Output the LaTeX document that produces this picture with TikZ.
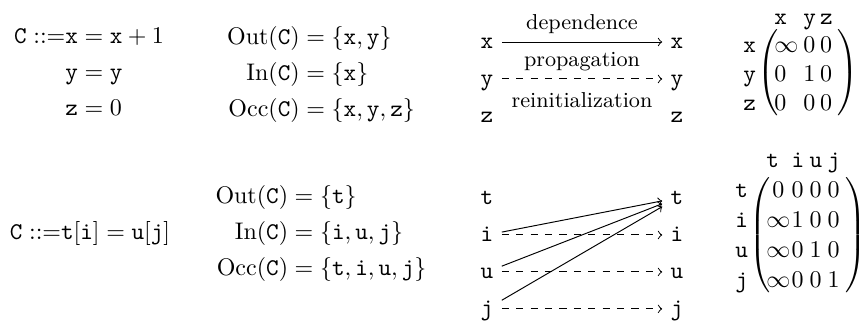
\documentclass[tikz,border=0pt]{standalone}
\usepackage{amsmath, amssymb}
\usepackage{tikz}
\usetikzlibrary{matrix}

\begin{document}
\begin{tikzpicture}[x=0.4167pt, y=-0.4167pt, node distance=15.4pt,
    var/.style={font=\ttfamily, text height=1.5ex, text depth=.25ex},
    lbl/.style={font=\small},
    hdr/.style={font=\ttfamily, inner sep=0pt, anchor=base west},
    rowlbl/.style={font=\ttfamily, anchor=base east},
    weights/.style={matrix of math nodes, inner xsep=0pt, inner ysep=2pt,
        left delimiter=(, right delimiter=), anchor=west},
    every left delimiter/.style={xshift=3pt},
    every right delimiter/.style={xshift=1pt}]
    \useasboundingbox (0,0) rectangle (865,320);

    % first command: C ::= x = x+1, y = y, z = 0
    \node (cxyz) at (89,74) {$\begin{aligned}\mathtt{C} ::= &\mathtt{x} = \mathtt{x}+1\\ &\mathtt{y} = \mathtt{y}\\ &\mathtt{z} = 0\end{aligned}$};
    \node (sxyz) at (321,75) {$\begin{aligned}\mathrm{Out}(\mathtt{C}) &= \{\mathtt{x},\mathtt{y}\}\\ \mathrm{In}(\mathtt{C}) &= \{\mathtt{x}\}\\ \mathrm{Occ}(\mathtt{C}) &= \{\mathtt{x},\mathtt{y},\mathtt{z}\}\end{aligned}$};

    \node (x1) [var] at (487,42) {x};
    \node (y1) [var, below of=x1] {y};
    \node (z1) [var, below of=y1] {z};
    \node (x2) [var] at (677,42) {x};
    \node (y2) [var, below of=x2] {y};
    \node (z2) [var, below of=y2] {z};

    \draw[->] (x1) -- (x2) node[midway, above, lbl] {dependence};
    \draw[->, dashed] (y1) -- (y2) node[midway, above, lbl] {propagation};
    \path (z1) -- (z2) node[midway, above, lbl] {reinitialization};

    \matrix (mxyz) [weights, row sep={12pt,between origins}, column sep=2pt,
        nodes={anchor=base west, inner sep=0pt}] at (774,74) {
        \infty & 0 & 0 \\
        0 & 1 & 0 \\
        0 & 0 & 0 \\
    };
    \node (hx) [hdr] at ([yshift=12pt]mxyz-1-1.base west) {x};
    \node (hy) [hdr] at ([yshift=12pt]mxyz-1-2.base west) {y};
    \node (hz) [hdr] at ([yshift=12pt]mxyz-1-3.base west) {z};
    \node (rx) [rowlbl] at ([xshift=-4pt]mxyz-1-1.base -| mxyz.west) {x};
    \node (ry) [rowlbl] at ([xshift=-4pt]mxyz-2-1.base -| mxyz.west) {y};
    \node (rz) [rowlbl] at ([xshift=-4pt]mxyz-3-1.base -| mxyz.west) {z};

    % second command: C ::= t[i] = u[j]
    \node (ctiuj) at (90,233) {$\mathtt{C} ::=${}$\mathtt{t}[\mathtt{i}] = \mathtt{u}[\mathtt{j}]$};
    \node (stiuj) at (321,234) {$\begin{aligned}\mathrm{Out}(\mathtt{C}) &= \{\mathtt{t}\}\\ \mathrm{In}(\mathtt{C}) &= \{\mathtt{i},\mathtt{u},\mathtt{j}\}\\ \mathrm{Occ}(\mathtt{C}) &= \{\mathtt{t},\mathtt{i},\mathtt{u},\mathtt{j}\}\end{aligned}$};

    \node (t1) [var] at (487,198) {t};
    \node (i1) [var, below of=t1] {i};
    \node (u1) [var, below of=i1] {u};
    \node (j1) [var, below of=u1] {j};
    \node (t2) [var] at (677,198) {t};
    \node (i2) [var, below of=t2] {i};
    \node (u2) [var, below of=i2] {u};
    \node (j2) [var, below of=u2] {j};

    \draw[->] (i1) -- (t2);
    \draw[->] (u1) -- (t2);
    \draw[->] (j1) -- (t2);
    \draw[->, dashed] (i1) -- (i2);
    \draw[->, dashed] (u1) -- (u2);
    \draw[->, dashed] (j1) -- (j2);

    \matrix (mtiuj) [weights, row sep={12.5pt,between origins}, column sep=2.5pt,
        nodes={anchor=base, inner sep=0pt}] at (766,235) {
        0 &[-2pt] 0 & 0 & 0 \\
        \infty &[-2pt] 1 & 0 & 0 \\
        \infty &[-2pt] 0 & 1 & 0 \\
        \infty &[-2pt] 0 & 0 & 1 \\
    };
    \node (ht) [hdr] at ([yshift=12.5pt]mtiuj-2-1.west |- mtiuj-1-1.base) {t};
    \node (hi) [hdr] at ([yshift=12.5pt]mtiuj-1-2.base west) {i};
    \node (hu) [hdr] at ([yshift=12.5pt]mtiuj-1-3.base west) {u};
    \node (hj) [hdr] at ([yshift=12.5pt]mtiuj-1-4.base west) {j};
    \node (rt) [rowlbl] at ([xshift=-4pt]mtiuj-1-1.base -| mtiuj.west) {t};
    \node (ri) [rowlbl] at ([xshift=-4pt]mtiuj-2-1.base -| mtiuj.west) {i};
    \node (ru) [rowlbl] at ([xshift=-4pt]mtiuj-3-1.base -| mtiuj.west) {u};
    \node (rj) [rowlbl] at ([xshift=-4pt]mtiuj-4-1.base -| mtiuj.west) {j};
\end{tikzpicture}
\end{document}
